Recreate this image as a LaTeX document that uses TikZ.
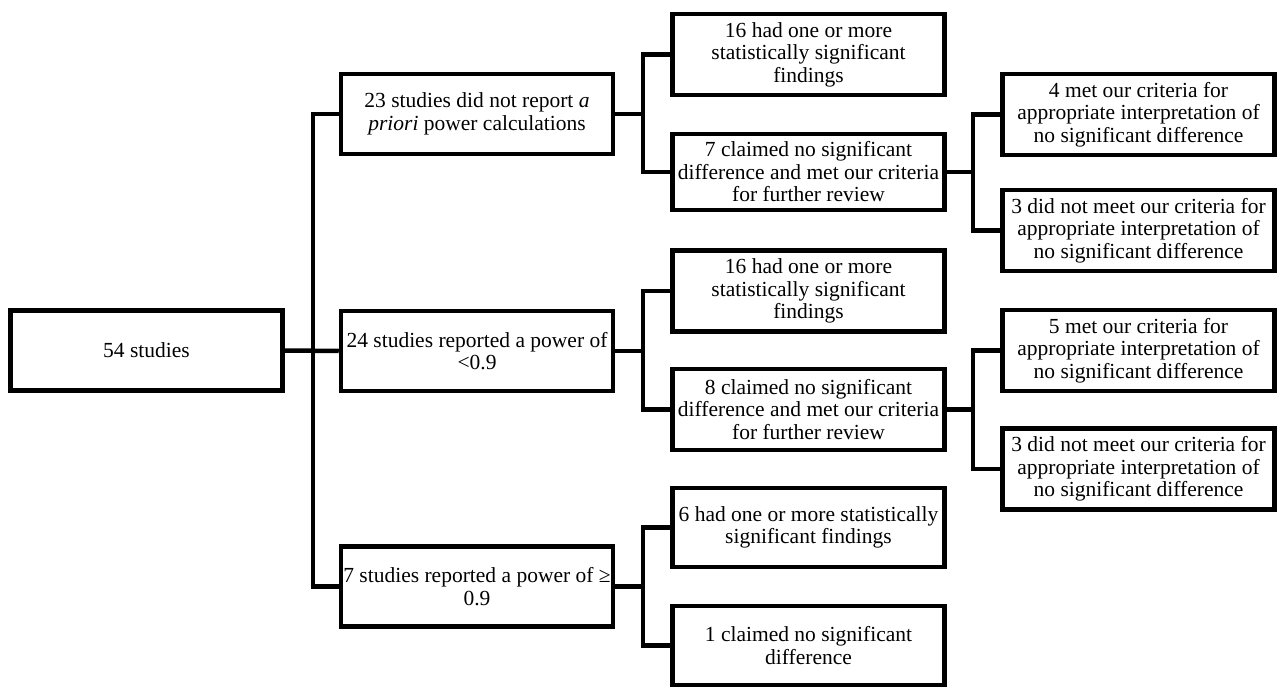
\documentclass[tikz,border=0pt]{standalone}
\usepackage{fontspec}
\setmainfont{Liberation Serif}
\begin{document}
\begin{tikzpicture}[x=1pt,y=-1pt,
  box/.style={draw=black, line width=4.5pt, line join=miter, fill=white,
    minimum width=272pt, minimum height=80pt, align=center, inner sep=0pt,
    font=\fontsize{21.5}{22.5}\selectfont},
  link/.style={draw=black, line width=4.5pt, line join=miter}]
\useasboundingbox (0,0) rectangle (1281,687);
\fill[white] (0,0) rectangle (1281,687);
% column 1
\node[box] (root) at (146.5,350.5) {54 studies};
% column 2
\node[box] (A) at (477,114) {23 studies did not report \textit{a}\\\textit{priori} power calculations};
\node[box] (B) at (477,351) {24 studies reported a power of\\<0.9};
\node[box] (C) at (477,586.5) {7 studies reported a power of ≥\\0.9};
% column 3
\node[box, minimum height=81pt] (A1) at (808.5,54.5) {16 had one or more\\statistically significant\\findings};
\node[box, minimum height=76pt] (A2) at (808.5,172) {7 claimed no significant\\difference and met our criteria\\for further review};
\node[box, minimum height=81pt] (B1) at (808.5,291) {16 had one or more\\statistically significant\\findings};
\node[box, minimum height=81pt] (B2) at (808.5,409.5) {8 claimed no significant\\difference and met our criteria\\for further review};
\node[box, minimum height=79pt] (C1) at (808.5,527.5) {6 had one or more statistically\\significant findings};
\node[box, minimum height=79pt] (C2) at (808.5,645.5) {1 claimed no significant\\difference};
% column 4
\node[box, minimum height=81pt] (A21) at (1138.5,114.5) {4 met our criteria for\\appropriate interpretation of\\no significant difference};
\node[box, minimum height=81pt] (A22) at (1138.5,230.5) {3 did not meet our criteria for\\appropriate interpretation of\\no significant difference};
\node[box, minimum height=81pt] (B21) at (1138.5,350.5) {5 met our criteria for\\appropriate interpretation of\\no significant difference};
\node[box, minimum height=81pt] (B22) at (1138.5,469) {3 did not meet our criteria for\\appropriate interpretation of\\no significant difference};
% junctions
\coordinate (t1) at (313,350.5);
\coordinate (ja) at (643,114);
\coordinate (jb) at (643,351);
\coordinate (jc) at (643,586.5);
\coordinate (ja2) at (973,172);
\coordinate (jb2) at (973,409.5);
% connectors
\draw[link] (root.east) -- (B.west);
\draw[link] (A.west) -| (t1) |- (C.west);
\draw[link] (A.east) -- (ja);
\draw[link] (A1.west) -| (ja) |- (A2.west);
\draw[link] (B.east) -- (jb);
\draw[link] (B1.west) -| (jb) |- (B2.west);
\draw[link] (C.east) -- (jc);
\draw[link] (C1.west) -| (jc) |- (C2.west);
\draw[link] (A2.east) -- (ja2);
\draw[link] (A21.west) -| (ja2) |- (A22.west);
\draw[link] (B2.east) -- (jb2);
\draw[link] (B21.west) -| (jb2) |- (B22.west);
\end{tikzpicture}
\end{document}
